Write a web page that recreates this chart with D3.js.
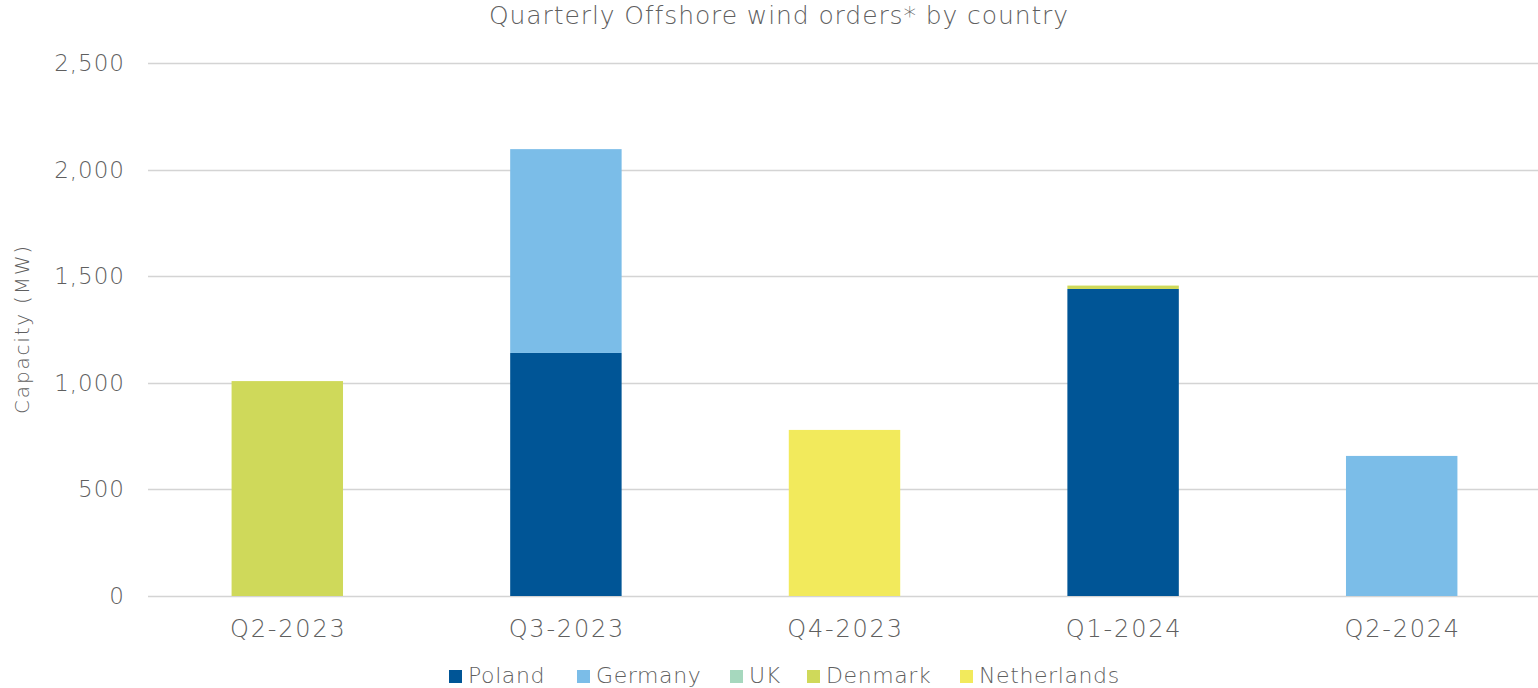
<!DOCTYPE html>
<html>
<head>
<meta charset="utf-8">
<script src="https://cdn.jsdelivr.net/npm/d3@7"></script>
<style>
  body { margin: 0; background: #fff; }
  svg text { font-family: "DejaVu Sans", sans-serif; font-weight: 200; fill: #5f5f5f; }
</style>
</head>
<body>
<svg id="chart" width="1538" height="688"></svg>
<script>
const quarters = ['Q2-2023', 'Q3-2023', 'Q4-2023', 'Q1-2024', 'Q2-2024'];
const countries = ['Poland', 'Germany', 'UK', 'Denmark', 'Netherlands'];
const colors = ['#005596', '#7bbde8', '#a6d8be', '#cfd95a', '#f2ea5c'];

// MW per quarter, per country
const poland      = [0, 1140, 0, 1440, 0];
const germany     = [0, 956, 0, 0, 657];
const uk          = [0, 0, 0, 0, 0];
const denmark     = [1008, 0, 0, 16, 0];
const netherlands = [0, 0, 779, 0, 0];

const yTicks = [0, 500, 1000, 1500, 2000, 2500];

const series = [poland, germany, uk, denmark, netherlands];
const rows = quarters.map((q, i) => {
    const r = { quarter: q };
    countries.forEach((c, j) => { r[c] = series[j][i]; });
    return r;
});

const svg = d3.select('#chart');
const margin = { left: 148, right: 0, top: 63, bottom: 92 };
const width = 1538, height = 688;

const x = d3.scaleBand()
    .domain(quarters)
    .range([margin.left, 1541])
    .paddingInner(0.6)
    .paddingOuter(0.3);

const y = d3.scaleLinear()
    .domain([0, 2500])
    .range([596, 63]);

// gridlines
svg.append('g')
    .selectAll('line')
    .data(yTicks)
    .join('line')
    .attr('x1', margin.left)
    .attr('x2', width)
    .attr('y1', d => Math.round(y(d)) + 0.5)
    .attr('y2', d => Math.round(y(d)) + 0.5)
    .attr('stroke', '#d4d4d4')
    .attr('stroke-width', 1.5);

// y tick labels
svg.append('g')
    .selectAll('text')
    .data(yTicks)
    .join('text')
    .attr('x', 125)
    .attr('y', d => y(d))
    .attr('dy', '0.35em')
    .attr('text-anchor', 'end')
    .attr('font-size', 23)
    .attr('letter-spacing', 1)
    .text(d3.format(','));

// stacked bars
const stacked = d3.stack().keys(countries)(rows);
svg.append('g')
    .selectAll('g')
    .data(stacked)
    .join('g')
    .attr('fill', (d, i) => colors[i])
    .selectAll('rect')
    .data(d => d.filter(v => v[1] - v[0] > 0))
    .join('rect')
    .attr('x', d => x(d.data.quarter))
    .attr('width', x.bandwidth())
    .attr('y', d => y(d[1]))
    .attr('height', d => y(d[0]) - y(d[1]));

// x labels
svg.append('g')
    .selectAll('text')
    .data(quarters)
    .join('text')
    .attr('x', d => x(d) + x.bandwidth() / 2 + 1)
    .attr('y', 637)
    .attr('text-anchor', 'middle')
    .attr('font-size', 24)
    .attr('letter-spacing', 1.8)
    .text(d => d);

// title
svg.append('text')
    .attr('x', 779)
    .attr('y', 24)
    .attr('text-anchor', 'middle')
    .attr('font-size', 25)
    .attr('letter-spacing', 0.9)
    .text('Quarterly Offshore wind orders* by country');

// y axis title
svg.append('text')
    .attr('transform', 'translate(29,329) rotate(-90)')
    .attr('text-anchor', 'middle')
    .attr('font-size', 20)
    .attr('letter-spacing', 1.8)
    .text('Capacity (MW)');

// legend
const legendX = [449, 577, 730, 807, 960];
const lg = svg.append('g')
    .selectAll('g')
    .data(countries)
    .join('g')
    .attr('transform', (d, i) => `translate(${legendX[i]},670)`);
lg.append('rect')
    .attr('width', 13).attr('height', 13)
    .attr('fill', (d, i) => colors[i]);
lg.append('text')
    .attr('x', 19)
    .attr('y', 13)
    .attr('font-size', 22)
    .attr('letter-spacing', 0.6)
    .text(d => d);
</script>
</body>
</html>
